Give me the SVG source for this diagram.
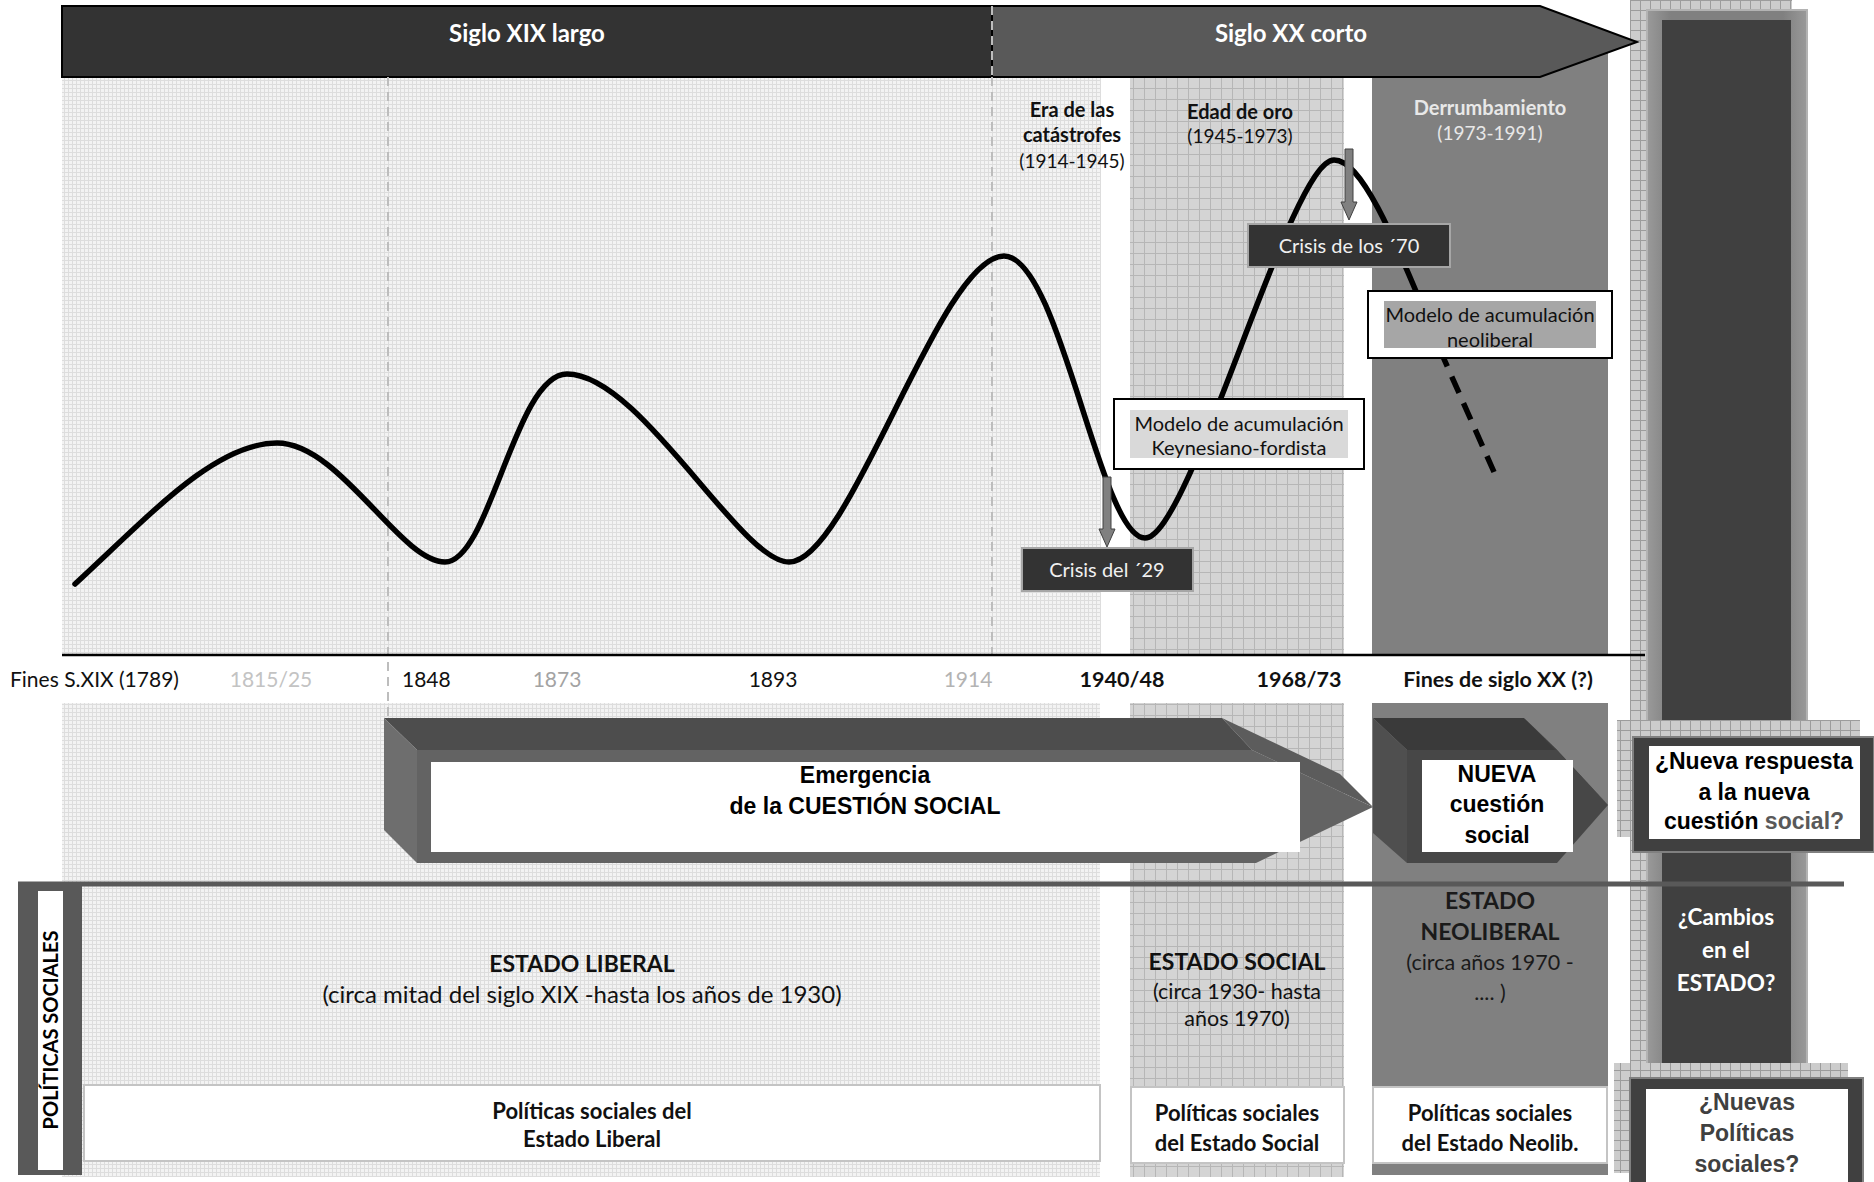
<svg xmlns="http://www.w3.org/2000/svg" width="1874" height="1182" viewBox="0 0 1874 1182">
<defs>
<pattern id="fine" width="4" height="4" patternUnits="userSpaceOnUse"><rect width="4" height="4" fill="#f3f3f3"/><path d="M0 0.5H4M0.5 0V4" stroke="#dddddd" stroke-width="1"/></pattern>
<pattern id="grid" width="11" height="11" patternUnits="userSpaceOnUse"><rect width="11" height="11" fill="#d4d4d4"/><path d="M0 0.5H11M0.5 0V11" stroke="#b6b6b6" stroke-width="1"/></pattern>
<pattern id="grid2" width="10" height="10" patternUnits="userSpaceOnUse"><rect width="10" height="10" fill="#cccccc"/><path d="M0 0.5H10M0.5 0V10" stroke="#9c9c9c" stroke-width="1"/></pattern>
<linearGradient id="frameG" x1="0" y1="0" x2="1" y2="0"><stop offset="0" stop-color="#9a9a9a"/><stop offset="0.15" stop-color="#808080"/><stop offset="0.85" stop-color="#808080"/><stop offset="1" stop-color="#9a9a9a"/></linearGradient>
</defs>
<style>
.cal{font-family:Lato,"Liberation Sans",sans-serif}
.b{font-weight:bold}
.ar{font-family:"Liberation Sans",Arial,sans-serif;font-weight:bold}
.mid{text-anchor:middle}
.dash{stroke:#bdbdbd;stroke-width:2;stroke-dasharray:9 6;fill:none}
.crisis{fill:#333333;stroke:#a6a6a6;stroke-width:2}
.polbox{fill:#ffffff;stroke:#c4c4c4;stroke-width:2}
.darr{fill:#808080;stroke:#404040;stroke-width:1}
</style>
<rect width="1874" height="1182" fill="#ffffff"/>

<!-- background regions -->
<g id="backgrounds">
<rect x="62" y="77" width="1039" height="578" fill="url(#fine)"/>
<rect x="1130" y="77" width="214" height="578" fill="url(#grid)"/>
<rect x="1372" y="42" width="236" height="613" fill="#808080"/>
<rect x="62" y="703" width="1038" height="474" fill="url(#fine)"/>
<rect x="1130" y="703" width="214" height="474" fill="url(#grid)"/>
<rect x="1372" y="703" width="236" height="472" fill="#808080"/>
<rect x="1630" y="0" width="162" height="1182" fill="url(#grid2)"/>
</g>

<g id="right-column">
<rect x="1647" y="10" width="160" height="1180" fill="url(#frameG)" stroke="#b3b3b3" stroke-width="2"/>
<rect x="1662" y="20" width="129" height="1170" fill="#404040"/>
</g>

<!-- banners -->
<g id="siglo-xix">
<rect x="62" y="6" width="930" height="71" fill="#333333" stroke="#000" stroke-width="2"/>
<text x="527" y="42" class="cal b mid" font-size="24" fill="#ffffff">Siglo XIX largo</text>
</g>
<g id="siglo-xx">
<polygon points="992,6 1540,6 1637,42 1540,77 992,77" fill="#595959" stroke="#000" stroke-width="2"/>
<text x="1291" y="42" class="cal b mid" font-size="24" fill="#ffffff">Siglo XX corto</text>
</g>

<g id="dividers">
<line x1="388" y1="77" x2="388" y2="718" class="dash"/>
<line x1="992" y1="77" x2="992" y2="655" class="dash"/>
<line x1="992" y1="6" x2="992" y2="77" stroke="#bdbdbd" stroke-width="2" stroke-dasharray="9 6"/>
</g>

<!-- period labels -->
<g id="period-catastrofes">
<text x="1072" y="117" class="cal b mid" font-size="20" fill="#111">Era de las</text>
<text x="1072" y="142" class="cal b mid" font-size="20" fill="#111">catástrofes</text>
<text x="1072" y="168" class="cal mid" font-size="19" fill="#111">(1914-1945)</text>
</g>
<g id="period-oro">
<text x="1240" y="119" class="cal b mid" font-size="20" fill="#111">Edad de oro</text>
<text x="1240" y="143" class="cal mid" font-size="19" fill="#111">(1945-1973)</text>
</g>
<g id="period-derrumbamiento">
<text x="1490" y="115" class="cal b mid" font-size="20" fill="#e8e8e8">Derrumbamiento</text>
<text x="1490" y="140" class="cal mid" font-size="19" fill="#e8e8e8">(1973-1991)</text>
</g>

<!-- curve -->
<g id="curve" fill="none" stroke="#000" stroke-width="5.5" stroke-linecap="round">
<path d="M75,584 C150,515 215,443 277,443 C340,443 400,562 445,562 C490,562 515,374 567,374 C640,374 740,562 789,562 C850,562 940,256 1004,256 C1060,256 1100,538 1145,538 C1190,538 1290,160 1334,160 C1360,160 1390,225 1440,350"/>
<path d="M1440,350 L1494,472" stroke-dasharray="18 11" stroke-linecap="butt"/>
</g>

<!-- model boxes -->
<g id="modelo-keynesiano">
<rect x="1114" y="399" width="250" height="70" fill="#ffffff" stroke="#000" stroke-width="2"/>
<rect x="1130" y="410" width="218" height="48" fill="#d9d9d9"/>
<text x="1239" y="431" class="cal mid" font-size="20" fill="#111">Modelo de acumulación</text>
<text x="1239" y="455" class="cal mid" font-size="20" fill="#111">Keynesiano-fordista</text>
</g>
<g id="modelo-neoliberal">
<rect x="1368" y="291" width="244" height="67" fill="#ffffff" stroke="#000" stroke-width="2"/>
<rect x="1384" y="301" width="212" height="47" fill="#a6a6a6"/>
<text x="1490" y="322" class="cal mid" font-size="20" fill="#111">Modelo de acumulación</text>
<text x="1490" y="347" class="cal mid" font-size="20" fill="#111">neoliberal</text>
</g>

<!-- crisis pointers -->
<g id="connectors">
<polygon class="darr" points="1103,477 1111,477 1111,529 1115,529 1107,547 1099,529 1103,529"/>
<polygon class="darr" points="1345,149 1353,149 1353,202 1357,202 1349,220 1341,202 1345,202"/>
</g>
<g id="crisis-29">
<rect x="1022" y="548" width="171" height="43" class="crisis"/>
<text x="1107" y="577" class="cal mid" font-size="20" fill="#f0f0f0">Crisis del ´29</text>
</g>
<g id="crisis-70">
<rect x="1248" y="224" width="202" height="43" class="crisis"/>
<text x="1349" y="253" class="cal mid" font-size="20" fill="#f0f0f0">Crisis de los ´70</text>
</g>

<!-- axis -->
<g id="axis">
<line x1="62" y1="655" x2="1645" y2="655" stroke="#000" stroke-width="2.5"/>
<text x="10" y="687" class="cal" font-size="21" fill="#111">Fines S.XIX (1789)</text>
<text x="271" y="687" class="cal mid" font-size="21" fill="#c3c3c3">1815/25</text>
<text x="402" y="687" class="cal" font-size="21" fill="#111">1848</text>
<text x="557" y="687" class="cal mid" font-size="21" fill="#a3a3a3">1873</text>
<text x="773" y="687" class="cal mid" font-size="21" fill="#111">1893</text>
<text x="968" y="687" class="cal mid" font-size="21" fill="#b3b3b3">1914</text>
<text x="1122" y="687" class="cal b mid" font-size="21.5" fill="#111">1940/48</text>
<text x="1299" y="687" class="cal b mid" font-size="21.5" fill="#111">1968/73</text>
<text x="1498" y="687" class="cal b mid" font-size="21.5" fill="#111">Fines de siglo XX (?)</text>
</g>

<!-- Emergencia arrow -->
<g id="emergencia">
<polygon points="384,718 1222,718 1252,750 417,750" fill="#4d4d4d"/>
<polygon points="1222,718 1340,774 1373,807 1252,750" fill="#5c5c5c"/>
<polygon points="384,718 417,750 417,863 384,830" fill="#6e6e6e"/>
<polygon points="417,750 1252,750 1373,807 1256,863 417,863" fill="#636363"/>
<rect x="431" y="762" width="869" height="90" fill="#ffffff"/>
<text x="865" y="783" class="ar mid" font-size="23" fill="#000">Emergencia</text>
<text x="865" y="814" class="ar mid" font-size="23" fill="#000">de la CUESTIÓN SOCIAL</text>
</g>

<!-- NUEVA arrow -->
<g id="nueva-cuestion">
<polygon points="1373,718 1524,718 1557,750 1407,750" fill="#3a3a3a"/>
<polygon points="1524,718 1608,805 1557,750" fill="#404040"/>
<polygon points="1373,718 1407,750 1407,863 1373,833" fill="#4f4f4f"/>
<polygon points="1407,750 1557,750 1608,805 1557,863 1407,863" fill="#474747"/>
<rect x="1422" y="760" width="151" height="92" fill="#ffffff"/>
<text x="1497" y="782" class="ar mid" font-size="23" fill="#000">NUEVA</text>
<text x="1497" y="812" class="ar mid" font-size="23" fill="#000">cuestión</text>
<text x="1497" y="843" class="ar mid" font-size="23" fill="#000">social</text>
</g>

<!-- divider line -->
<line x1="18" y1="884" x2="1844" y2="884" stroke="#595959" stroke-width="5"/>

<g id="politicas-label">
<rect x="18" y="882" width="64" height="293" fill="#595959"/>
<rect x="38" y="891" width="25" height="279" fill="#ffffff"/>
<text transform="translate(58,1030) rotate(-90)" class="cal b mid" font-size="20" fill="#000">POLÍTICAS SOCIALES</text>
</g>

<g id="nueva-respuesta">
<rect x="1617" y="720" width="243" height="117" fill="url(#grid2)"/>
<rect x="1633" y="737" width="241" height="115" fill="#404040" stroke="#808080" stroke-width="2"/>
<rect x="1649" y="746" width="211" height="93" fill="#ffffff"/>
<text x="1754" y="769" class="ar mid" font-size="23" fill="#000">¿Nueva respuesta</text>
<text x="1754" y="800" class="ar mid" font-size="23" fill="#000">a la nueva</text>
<text x="1754" y="829" class="ar mid" font-size="23" fill="#000">cuestión <tspan fill="#595959">social?</tspan></text>
</g>

<g id="cambios-estado">
<text x="1726" y="925" class="cal b mid" font-size="22.5" fill="#ffffff">¿Cambios</text>
<text x="1726" y="958" class="cal b mid" font-size="22.5" fill="#ffffff">en el</text>
<text x="1726" y="991" class="cal b mid" font-size="22.5" fill="#ffffff">ESTADO?</text>
</g>

<g id="nuevas-politicas">
<rect x="1614" y="1063" width="234" height="110" fill="url(#grid2)"/>
<rect x="1630" y="1078" width="233" height="110" fill="#404040" stroke="#808080" stroke-width="2"/>
<rect x="1646" y="1089" width="202" height="93" fill="#ffffff"/>
<text x="1747" y="1110" class="ar mid" font-size="23" fill="#404040">¿Nuevas</text>
<text x="1747" y="1141" class="ar mid" font-size="23" fill="#404040">Políticas</text>
<text x="1747" y="1172" class="ar mid" font-size="23" fill="#404040">sociales?</text>
</g>

<!-- states -->
<g id="estado-liberal">
<text x="582" y="972" class="cal b mid" font-size="23" fill="#111">ESTADO LIBERAL</text>
<text x="582" y="1003" class="cal mid" font-size="24" fill="#111">(circa mitad del siglo XIX -hasta los años de 1930)</text>
</g>
<g id="estado-social">
<text x="1237" y="970" class="cal b mid" font-size="23" fill="#111">ESTADO SOCIAL</text>
<text x="1237" y="999" class="cal mid" font-size="21.5" fill="#111">(circa 1930- hasta</text>
<text x="1237" y="1026" class="cal mid" font-size="21.5" fill="#111">años 1970)</text>
</g>
<g id="estado-neoliberal">
<text x="1490" y="909" class="cal b mid" font-size="23" fill="#1a1a1a">ESTADO</text>
<text x="1490" y="940" class="cal b mid" font-size="23" fill="#1a1a1a">NEOLIBERAL</text>
<text x="1490" y="970" class="cal mid" font-size="21.5" fill="#1a1a1a">(circa años 1970 -</text>
<text x="1490" y="1000" class="cal mid" font-size="21.5" fill="#1a1a1a">.... )</text>
</g>

<g id="pol-liberal">
<rect x="84" y="1085" width="1016" height="76" class="polbox"/>
<text x="592" y="1119" class="cal b mid" font-size="22" fill="#111">Políticas sociales del</text>
<text x="592" y="1147" class="cal b mid" font-size="22" fill="#111">Estado Liberal</text>
</g>
<g id="pol-social">
<rect x="1131" y="1087" width="213" height="76" class="polbox"/>
<text x="1237" y="1121" class="cal b mid" font-size="22" fill="#111">Políticas sociales</text>
<text x="1237" y="1151" class="cal b mid" font-size="22" fill="#111">del Estado Social</text>
</g>
<g id="pol-neolib">
<rect x="1373" y="1087" width="234" height="76" class="polbox"/>
<text x="1490" y="1121" class="cal b mid" font-size="22" fill="#111">Políticas sociales</text>
<text x="1490" y="1151" class="cal b mid" font-size="22" fill="#111">del Estado Neolib.</text>
</g>
</svg>
